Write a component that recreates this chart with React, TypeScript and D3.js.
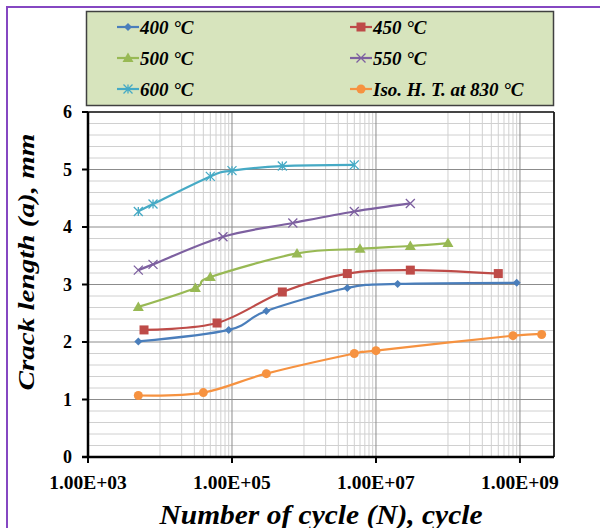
import React from "react";
import * as d3 from "d3";

// cycles (N) and crack length (a, mm) per series
const n400 = [5e3, 9e4, 3e5, 4e6, 2e7, 9e8];
const a400 = [2.01, 2.21, 2.54, 2.94, 3.01, 3.03];
const n450 = [6e3, 6.2e4, 5e5, 4e6, 3e7, 5e8];
const a450 = [2.21, 2.33, 2.87, 3.19, 3.25, 3.19];
const n500 = [5e3, 3.1e4, 5e4, 8e5, 6e6, 3e7, 1e8];
const a500 = [2.61, 2.94, 3.13, 3.54, 3.62, 3.67, 3.72];
const n550 = [5e3, 8e3, 7.5e4, 7e5, 5e6, 3e7];
const a550 = [3.25, 3.35, 3.83, 4.07, 4.27, 4.41];
const n600 = [5e3, 8e3, 5e4, 1e5, 5e5, 5e6];
const a600 = [4.27, 4.4, 4.88, 4.98, 5.06, 5.08];
const nIso = [5e3, 4e4, 3e5, 5e6, 1e7, 8e8, 2e9];
const aIso = [1.07, 1.12, 1.45, 1.8, 1.85, 2.11, 2.13];

const seriesNames = ["400 °C", "450 °C", "500 °C", "550 °C", "600 °C", "Iso. H. T. at 830 °C"];
const xTicks = [1e3, 1e5, 1e7, 1e9];
const yTicks = [0, 1, 2, 3, 4, 5, 6];

const series = [
  { name: seriesNames[0], n: n400, a: a400, color: "#4a7ebb", marker: "diamond" },
  { name: seriesNames[1], n: n450, a: a450, color: "#be4b48", marker: "square" },
  { name: seriesNames[2], n: n500, a: a500, color: "#98b954", marker: "triangle" },
  { name: seriesNames[3], n: n550, a: a550, color: "#7d60a0", marker: "x" },
  { name: seriesNames[4], n: n600, a: a600, color: "#46aac5", marker: "star" },
  { name: seriesNames[5], n: nIso, a: aIso, color: "#f69240", marker: "circle" },
];

const FONT = "'Liberation Serif', 'Times New Roman', serif";

function Marker({ type, x, y, color }: { type: string; x: number; y: number; color: string }) {
  if (type === "diamond") {
    const s = 4;
    return <path d={`M${x},${y - s}L${x + s},${y}L${x},${y + s}L${x - s},${y}Z`} fill={color} />;
  }
  if (type === "square") {
    return <rect x={x - 4.5} y={y - 4.5} width={9} height={9} fill={color} />;
  }
  if (type === "triangle") {
    return <path d={`M${x},${y - 5.5}L${x + 5.5},${y + 4}L${x - 5.5},${y + 4}Z`} fill={color} />;
  }
  if (type === "circle") {
    return <circle cx={x} cy={y} r={4.5} fill={color} />;
  }
  const s = 4.5;
  let d = `M${x - s},${y - s}L${x + s},${y + s}M${x - s},${y + s}L${x + s},${y - s}`;
  if (type === "star") d += `M${x},${y - s}L${x},${y + s}`;
  return <path d={d} stroke={color} strokeWidth={1.3} fill="none" />;
}

export default function App() {
  const left = 88, right = 554, top = 112, bottom = 457;
  const x = d3.scaleLog().domain([1e3, 2.97e9]).range([left, right]);
  const y = d3.scaleLinear().domain([0, 6]).range([bottom, top]);

  // Excel style log grid (base 100): minor lines at k*10^(even) inside each span
  const minorX: number[] = [];
  for (let e = 4; e <= 8; e += 2) {
    for (let k = 1; k <= 9; k++) minorX.push(k * Math.pow(10, e));
  }
  const minorY = d3.range(0, 6.01, 0.2).filter((v) => Math.abs(v - Math.round(v)) > 0.01);

  const line = d3
    .line<[number, number]>()
    .x((d) => x(d[0]))
    .y((d) => y(d[1]))
    .curve(d3.curveCardinal.tension(0));

  const legendRows = [27, 58, 89];
  const legendCols = [117, 350];

  return (
    <svg width={600} height={528} style={{ position: "absolute", left: 0, top: 0, background: "#fff" }}>
      <rect x={7} y={7} width={700} height={700} fill="#fff" stroke="#8547c2" strokeWidth={2} />

      {/* legend */}
      <rect x={86.5} y={11.5} width={467} height={94} fill="#d7e4bd" stroke="#404040" strokeWidth={1.5} />
      {series.map((s, i) => {
        const cx = legendCols[i % 2];
        const cy = legendRows[Math.floor(i / 2)];
        return (
          <g key={s.name}>
            <line x1={cx} x2={cx + 22} y1={cy} y2={cy} stroke={s.color} strokeWidth={2.2} />
            <Marker type={s.marker} x={cx + 11} y={cy} color={s.color} />
            <text x={cx + 23} y={cy} dy="0.35em" fontFamily={FONT} fontSize={19} fontWeight="bold" fontStyle="italic">
              {s.name}
            </text>
          </g>
        );
      })}

      {/* grid */}
      {minorY.map((v) => (
        <line key={"my" + v} x1={left} x2={right} y1={y(v)} y2={y(v)} stroke="#d0d0d0" strokeWidth={1} />
      ))}
      {minorX.map((v) => (
        <line key={"mx" + v} x1={x(v)} x2={x(v)} y1={top} y2={bottom} stroke="#d0d0d0" strokeWidth={1} />
      ))}
      {yTicks.slice(1).map((v) => (
        <line key={"gy" + v} x1={left} x2={right} y1={y(v)} y2={y(v)} stroke="#8c8c8c" strokeWidth={1} />
      ))}
      {xTicks.slice(1).map((v) => (
        <line key={"gx" + v} x1={x(v)} x2={x(v)} y1={top} y2={bottom} stroke="#8c8c8c" strokeWidth={1} />
      ))}

      {/* plot frame */}
      <line x1={left} x2={right} y1={top} y2={top} stroke="#1a1a1a" strokeWidth={1.5} />
      <line x1={right} x2={right} y1={top} y2={bottom} stroke="#1a1a1a" strokeWidth={1.8} />

      {/* series */}
      {series.map((s) => {
        const pts = s.n.map((n, i) => [n, s.a[i]] as [number, number]);
        return (
          <g key={"s" + s.name}>
            <path d={line(pts) || ""} fill="none" stroke={s.color} strokeWidth={2.2} />
            {pts.map((p, i) => (
              <Marker key={i} type={s.marker} x={x(p[0])} y={y(p[1])} color={s.color} />
            ))}
          </g>
        );
      })}

      {/* axes */}
      <line x1={left} x2={left} y1={top} y2={bottom} stroke="#000" strokeWidth={2.5} />
      <line x1={left - 6} x2={right} y1={bottom} y2={bottom} stroke="#000" strokeWidth={2.5} />
      {yTicks.map((v) => (
        <g key={"yt" + v}>
          <line x1={left - 6} x2={left} y1={y(v)} y2={y(v)} stroke="#000" strokeWidth={2} />
          <text x={72} y={y(v)} dy="0.35em" textAnchor="end" fontFamily={FONT} fontSize={18} fontWeight="bold">
            {v}
          </text>
        </g>
      ))}
      {xTicks.map((v) => (
        <g key={"xt" + v}>
          <line x1={x(v)} x2={x(v)} y1={bottom} y2={bottom + 6} stroke="#000" strokeWidth={2} />
          <text x={x(v)} y={489} textAnchor="middle" fontFamily={FONT} fontSize={19.5} fontWeight="bold">
            {d3.format(".2e")(v).replace("e+", "E+0").toUpperCase()}
          </text>
        </g>
      ))}

      <text
        x={321}
        y={524}
        textAnchor="middle"
        fontFamily={FONT}
        fontSize={28}
        fontWeight="bold"
        fontStyle="italic"
        textLength={323}
        lengthAdjust="spacingAndGlyphs"
      >
        Number of cycle (N), cycle
      </text>
      <text
        transform={`translate(34,262) rotate(-90)`}
        textAnchor="middle"
        fontFamily={FONT}
        fontSize={24}
        fontWeight="bold"
        fontStyle="italic"
        textLength={257}
        lengthAdjust="spacingAndGlyphs"
      >
        Crack length (a), mm
      </text>
    </svg>
  );
}
